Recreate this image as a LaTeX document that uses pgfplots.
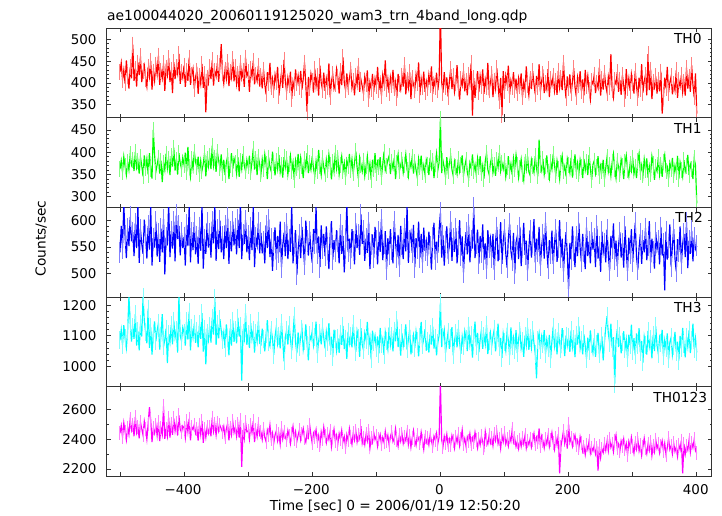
\documentclass[border=0pt]{standalone}
\usepackage{pgfplots}
\pgfplotsset{compat=1.18}
\usepackage{pgfplotstable}
\usepackage{fontspec}
\setmainfont{DejaVu Sans}
\definecolor{cR}{RGB}{255,0,0}
\definecolor{cG}{RGB}{0,255,0}
\definecolor{cB}{RGB}{0,0,255}
\definecolor{cC}{RGB}{0,255,255}
\definecolor{cM}{RGB}{255,0,255}

\pgfplotstableread{
x r g b c m
-500 425 362 540 1085 2440
-498 446 381 590 1120 2490
-496 408 355 548 1070 2415
-494 430 390 632 1135 2510
-492 399 368 571 1092 2450
-490 452 349 529 1060 2395
-488 415 377 586 1118 2478
-486 387 360 552 1230 2432
-484 436 395 607 1145 2535
-482 411 372 561 1081 2462
-480 488 383 578 1128 2498
-478 405 358 533 1090 2420
-476 433 401 595 1172 2550
-474 392 366 548 1068 2445
-472 447 380 630 1115 2482
-470 418 352 520 1052 2405
-468 461 389 583 1140 2512
-466 402 370 556 1098 2470
-464 428 346 537 1228 2428
-462 440 393 602 1150 2520
-460 410 364 571 1112 2468
-458 392 385 528 1075 2400
-456 437 350 590 1190 2505
-454 415 398 545 1060 2615
-452 451 362 628 1128 2530
-450 385 341 515 1038 2380
-448 426 450 567 1105 2472
-446 405 395 549 1148 2440
-444 442 356 598 1082 2495
-442 420 372 532 1117 2425
-440 463 388 576 1142 2515
-438 396 352 522 1055 2388
-436 428 381 585 1099 2476
-434 411 333 540 1172 2432
-432 445 376 603 1065 2620
-430 382 360 498 1088 2402
-428 434 397 568 1124 2468
-426 418 364 553 1010 2420
-424 457 385 635 1106 2545
-422 402 349 531 1078 2410
-420 430 391 580 1135 2500
-418 377 368 547 1072 2430
-416 448 410 598 1150 2540
-414 409 359 523 1094 2455
-412 436 382 611 1118 2510
-410 421 350 565 1045 2425
-408 467 398 590 1230 2560
-406 398 376 534 1100 2468
-404 425 363 577 1083 2445
-402 412 388 548 1127 2488
-400 440 372 569 1110 2475
-398 391 399 515 1068 2410
-396 427 356 593 1148 2520
-394 405 412 552 1088 2450
-392 458 367 627 1180 2538
-390 396 345 521 1052 2392
-388 419 384 578 1125 2482
-386 433 363 544 1095 2465
-384 387 401 597 1140 2498
-382 414 378 536 1077 2440
-380 428 366 570 1115 2470
-378 375 390 518 1062 2390
-376 416 352 588 1138 2498
-374 398 381 543 1090 2432
-372 444 359 631 1175 2522
-370 389 374 509 1048 2375
-368 421 398 565 1122 2468
-366 333 346 537 1006 2412
-364 412 385 596 1108 2480
-362 400 368 549 1085 2440
-360 436 392 575 1132 2485
-358 409 362 530 1078 2420
-356 452 415 598 1160 2545
-354 394 370 557 1104 2452
-352 427 388 630 1225 2500
-350 415 356 524 1070 2428
-348 446 400 583 1140 2510
-346 403 381 546 1092 2455
-344 438 365 600 1155 2492
-342 489 395 540 1118 2470
-340 422 354 570 1085 2448
-338 399 383 527 1112 2485
-336 431 349 591 1060 2415
-334 410 377 548 1138 2470
-332 448 391 606 1092 2505
-330 393 340 518 1036 2392
-328 425 372 579 1125 2478
-326 412 398 542 1068 2430
-324 455 362 598 1150 2520
-322 404 386 553 1080 2445
-320 437 375 585 1118 2480
-318 398 352 536 1075 2420
-316 420 389 602 1160 2500
-314 381 345 548 1098 2410
-312 446 380 638 1132 2530
-310 412 362 527 952 2215
-308 428 396 573 1108 2462
-306 391 370 556 1088 2405
-304 458 357 601 1175 2512
-302 417 383 540 1070 2450
-300 425 368 571 1105 2455
-298 380 392 525 1060 2400
-296 433 355 587 1142 2495
-294 415 378 544 1090 2445
-292 451 408 629 1120 2520
-290 397 361 512 1045 2380
-288 418 384 568 1110 2462
-286 405 349 553 1082 2418
-284 440 390 596 1150 2505
-282 392 373 538 1076 2428
-280 415 351 577 1071 2446
-278 388 384 538 1124 2398
-276 431 362 560 1088 2470
-274 396 395 519 1049 2412
-272 374 373 591 1105 2383
-270 425 340 548 1152 2461
-268 401 388 603 1080 2430
-266 446 367 531 1066 2495
-264 392 357 566 1119 2402
-262 410 401 505 1092 2441
-260 383 376 559 1037 2375
-258 419 348 587 1098 2428
-256 402 380 526 1130 2456
-254 437 362 571 1074 2389
-252 371 394 540 1101 2433
-250 398 355 598 1059 2367
-248 424 371 512 1142 2475
-246 389 343 553 1083 2402
-244 453 389 577 1016 2450
-242 405 366 533 1096 2415
-240 380 385 594 1118 2392
-238 412 350 527 1071 2458
-236 395 373 564 1135 2421
-234 426 392 541 1089 2370
-232 364 359 630 1052 2437
-230 403 377 519 1104 2486
-228 388 338 556 1166 2404
-226 431 381 582 1078 2449
-224 399 364 497 1042 2385
-222 417 396 545 1111 2426
-220 392 357 573 1063 2461
-218 428 388 529 1097 2394
-216 385 369 588 1124 2433
-214 410 342 551 1055 2472
-212 447 384 516 1083 2408
-210 396 365 600 1138 2380
-208 334 398 562 1071 2445
-206 414 353 534 1019 2414
-204 389 376 579 1102 2496
-202 421 361 543 1087 2427
-200 405 391 520 1116 2372
-198 378 363 584 1068 2440
-196 433 347 556 1095 2417
-194 393 380 626 1147 2463
-192 416 358 537 1041 2386
-190 371 405 570 1083 2425
-188 440 370 512 1110 2359
-186 401 349 591 1072 2448
-184 385 386 548 1128 2402
-182 424 366 575 1094 2481
-180 382 352 533 1059 2419
-178 410 383 589 1113 2376
-176 391 361 546 1080 2435
-174 445 395 508 1142 2398
-172 367 372 574 1066 2455
-170 404 339 599 1097 2350
-168 420 378 526 1030 2412
-166 387 357 563 1120 2467
-164 398 399 541 1088 2389
-162 432 364 582 1051 2426
-160 413 387 560 1092 2371
-158 376 350 519 1044 2438
-156 428 372 592 1107 2402
-154 395 391 537 1070 2459
-152 459 358 571 1133 2384
-150 401 376 502 1056 2417
-148 384 344 553 1091 2345
-146 422 382 633 1024 2430
-144 390 369 541 1114 2392
-142 411 396 566 1075 2470
-140 431 361 529 1101 2414
-138 389 384 584 1062 2366
-136 405 353 560 1138 2441
-134 372 377 517 1079 2395
-132 417 402 595 1047 2456
-130 396 366 548 1116 2381
-128 440 341 573 1093 2428
-126 380 388 535 1031 2402
-124 408 372 612 1125 2488
-122 393 357 556 1071 2373
-120 376 381 581 1053 2411
-118 415 347 524 1109 2364
-116 398 369 566 1087 2432
-114 429 391 539 1146 2389
-112 364 355 597 1068 2456
-110 402 374 508 1095 2338
-108 387 338 555 1022 2405
-106 421 383 574 1117 2378
-104 380 362 530 1079 2444
-102 410 398 588 1101 2397
-100 393 354 562 1060 2420
-98 437 378 517 1098 2352
-96 384 366 579 1041 2398
-94 406 389 541 1126 2431
-92 371 345 603 1073 2366
-90 418 372 525 1090 2412
-88 399 401 556 1037 2379
-86 452 359 580 1112 2452
-84 386 368 508 1084 2390
-82 409 383 567 1056 2426
-80 377 392 536 1129 2361
-78 413 351 584 1070 2418
-76 395 379 545 1098 2447
-74 430 364 519 1049 2384
-72 388 387 599 1117 2405
-70 403 340 558 1082 2470
-68 366 376 531 1154 2396
-66 421 395 573 1063 2353
-64 398 358 514 1094 2429
-62 385 371 590 1035 2387
-60 417 383 555 1108 2437
-58 392 354 527 1066 2372
-56 441 372 586 1093 2413
-54 374 395 542 1138 2389
-52 408 361 628 1055 2451
-50 389 346 520 1087 2365
-48 425 380 563 1121 2420
-46 363 367 577 1039 2346
-44 411 389 539 1074 2408
-42 397 352 592 1102 2458
-40 384 378 512 1060 2394
-38 420 360 567 1115 2359
-36 401 343 548 1084 2427
-34 447 385 598 1032 2401
-32 372 366 530 1097 2375
-30 410 392 575 1146 2446
-28 391 355 521 1069 2390
-26 426 371 587 1090 2332
-24 380 350 543 1122 2415
-22 404 383 561 1051 2378
-20 388 372 533 1083 2409
-18 419 349 579 1045 2363
-16 396 388 551 1106 2430
-14 438 365 507 1071 2388
-12 375 380 568 1130 2352
-10 407 342 596 1058 2421
-8 392 374 526 1092 2396
-6 424 397 560 1036 2440
-4 383 360 539 1077 2371
-2 410 377 583 1101 2414
0 570 475 615 1210 2790
2 402 353 530 1063 2395
4 378 381 572 1096 2350
6 425 366 515 1120 2418
8 391 345 561 1044 2377
10 413 389 589 1081 2432
12 369 358 537 1112 2359
14 404 374 552 1057 2401
16 432 392 598 1093 2364
18 386 361 524 1129 2425
20 415 347 567 1036 2390
22 380 379 541 1085 2341
24 400 366 586 1108 2418
26 441 351 519 1062 2379
28 388 384 555 1124 2433
30 362 357 601 1078 2355
32 409 372 534 1041 2398
34 395 393 570 1097 2462
36 428 348 502 1066 2369
38 381 368 548 1115 2405
40 404 383 578 1088 2352
42 372 355 536 1050 2415
44 419 341 592 1132 2388
46 398 376 521 1071 2437
48 445 364 563 1102 2365
50 325 395 547 1028 2409
52 411 357 625 1093 2378
54 366 372 529 1147 2446
56 402 349 556 1065 2395
58 427 386 583 1110 2341
60 379 366 518 1046 2398
62 416 391 571 1088 2362
64 394 353 540 1119 2419
66 431 370 593 1057 2384
68 375 341 526 1099 2340
70 408 380 557 1072 2451
72 390 398 509 1135 2393
74 446 361 582 1040 2367
76 383 350 549 1084 2426
78 401 375 566 1110 2375
80 420 389 531 1066 2410
82 368 354 575 1098 2356
84 405 371 507 1121 2432
86 387 347 559 1049 2391
88 434 383 588 1085 2449
90 396 366 523 1140 2370
92 359 399 546 1062 2404
94 412 358 597 1093 2338
96 326 376 518 1027 2425
98 427 362 562 1107 2383
100 382 380 583 1079 2441
102 417 345 538 1051 2367
104 399 366 511 1113 2399
106 440 391 566 1086 2354
108 373 357 594 1035 2418
110 406 374 542 1128 2386
112 392 349 525 1067 2465
114 425 386 577 1094 2379
116 384 363 500 1052 2406
118 410 394 559 1119 2350
120 376 371 571 1043 2384
122 411 343 527 1090 2337
124 393 365 588 1116 2396
126 422 384 514 1058 2352
128 367 352 553 1082 2410
130 401 337 596 1031 2368
132 385 379 535 1101 2425
134 438 361 562 1069 2341
136 396 391 506 1128 2389
138 372 356 548 1054 2363
140 409 348 582 1093 2404
142 386 383 530 1061 2347
144 427 369 559 1118 2392
146 398 355 603 1076 2438
148 374 391 521 1040 2365
150 416 364 566 960 2411
152 391 346 541 1085 2380
154 443 428 588 1109 2472
156 380 372 515 1054 2356
158 405 359 552 1097 2420
160 421 385 574 1072 2389
162 377 350 528 1119 2341
164 400 368 596 1040 2402
166 386 393 545 1088 2368
168 432 356 510 1061 2427
170 368 341 563 1103 2350
172 409 377 537 1025 2395
174 395 362 581 1082 2444
176 417 396 518 1130 2374
178 382 371 556 1066 2331
180 404 349 583 1094 2410
182 373 381 522 1039 2362
184 428 363 549 1112 2433
186 390 340 601 1077 2170
188 411 375 530 1056 2349
190 384 392 566 1125 2401
192 447 357 504 1090 2455
194 397 369 545 1033 2371
196 365 346 578 1101 2412
198 415 385 536 1068 2337
200 388 371 470 1095 2500
202 420 354 558 1047 2380
204 376 388 526 1118 2408
206 402 343 589 1062 2353
208 434 366 544 1089 2396
210 391 395 512 1030 2427
212 369 358 570 1104 2362
214 413 376 533 1071 2391
216 396 351 596 1133 2340
218 427 383 549 1058 2415
220 381 367 522 1086 2372
222 408 342 575 1039 2318
224 372 385 541 1105 2350
226 430 360 508 1066 2296
228 393 377 587 1024 2361
230 416 349 533 1094 2330
232 383 394 560 1051 2389
234 362 363 519 1118 2307
236 405 338 578 1073 2344
238 398 372 545 1045 2321
240 419 381 566 1092 2358
242 377 352 512 1031 2301
244 401 366 590 1074 2339
246 389 391 528 1110 2190
248 436 347 551 1040 2352
250 371 370 503 1063 2276
252 410 358 579 1098 2334
254 385 383 540 1019 2310
256 423 340 557 1081 2371
258 394 365 521 1127 2325
260 378 389 583 1165 2384
262 414 356 536 1109 2322
264 392 371 505 1078 2403
266 466 347 571 1140 2345
268 384 378 548 1060 2371
270 367 396 595 1096 2316
272 406 362 527 942 2390
274 398 342 562 1085 2428
276 425 380 514 1122 2339
278 380 367 554 1063 2367
280 407 352 578 1101 2320
282 373 384 530 1042 2388
284 418 369 557 1080 2354
286 395 340 511 1115 2402
288 364 377 589 1057 2331
290 432 393 541 1088 2370
292 389 361 505 1026 2296
294 411 346 568 1104 2385
296 382 374 537 1069 2349
298 420 359 584 1137 2412
300 399 388 522 1051 2355
302 376 351 560 1092 2306
304 428 367 596 1036 2377
306 393 342 531 1108 2334
308 366 380 507 1070 2398
310 412 397 549 1125 2321
312 386 356 575 1045 2362
314 443 371 518 1083 2291
316 378 348 563 1012 2349
318 404 384 540 1097 2406
320 419 361 586 1071 2342
322 372 386 525 1038 2303
324 466 343 553 1116 2369
326 384 369 599 1064 2325
328 431 352 520 1089 2381
330 363 391 566 1026 2290
332 402 374 541 1103 2354
334 390 338 509 1050 2316
336 415 366 578 1131 2397
338 376 357 546 1068 2338
340 408 389 562 1041 2366
342 381 350 517 1094 2308
344 426 372 588 1075 2351
346 330 345 534 1120 2389
348 369 379 556 1033 2320
350 412 394 468 1086 2372
352 388 359 579 1061 2297
354 437 367 526 1108 2343
356 378 341 550 1022 2405
358 401 376 593 1079 2331
360 415 363 513 1095 2356
362 374 387 552 1037 2302
364 398 348 584 1067 2374
366 383 370 528 1113 2318
368 429 355 504 1048 2347
370 366 392 565 1081 2285
372 406 340 541 1018 2362
374 392 377 589 1100 2329
376 418 361 519 1059 2391
378 379 345 556 1126 2170
380 402 382 575 1072 2368
382 371 357 531 1029 2299
384 435 369 597 1097 2354
386 387 394 510 1064 2327
388 413 349 562 1118 2395
390 380 373 537 1043 2312
392 441 362 581 1085 2376
394 396 340 523 1140 2343
396 367 386 568 1056 2398
398 422 371 546 1092 2321
400 330 285 552 1045 2305
}\data

% pale vertical error bars (as '|' marks of half-length about 1 sigma), then the line
\newcommand{\series}[3]{%
  \addplot[only marks, mark=|, mark size=#3, color=#2!50!white, forget plot,
    each nth point=2, filter discard warning=false,
    mark options={line width=1bp}]
    table[x=x, y=#1]{\data};
  \addplot[#2, line width=1.15bp, mark=none] table[x=x, y=#1]{\data};
}

\tikzset{
  lab/.style={anchor=north east, inner sep=0pt, font=\fontsize{13.8}{16}\selectfont, yshift=-5bp},
}

\pgfplotsset{
  panel/.style={
    width=605bp, height=89.6bp, scale only axis,
    anchor=north west,
    xmin=-521, xmax=423,
    xtick={-500,-400,...,400},
    major tick length=4bp, minor tick length=2bp,
    tick align=inside,
    axis line style={line width=1bp, black!80},
    every tick/.style={line width=0.8bp, black!80},
    tick label style={font=\fontsize{13.5}{15}\selectfont},
    yticklabel style={inner sep=0pt, anchor=east, xshift=-9.8bp},
    /pgf/number format/assume math mode=true,
    /pgf/number format/1000 sep={},
    clip=true,
  },
  notx/.style={xticklabels={,,,,,,,,,}},
}

\begin{document}
\begin{tikzpicture}
\path[use as bounding box] (0,0) rectangle (722bp,-516bp);

\begin{axis}[panel, notx, at={(106.5bp,-28.3bp)}, ymin=320, ymax=525.5,
  ytick={350,400,450,500}, minor y tick num=4]
\series{r}{cR}{8bp}
\node[lab, xshift=-9.8bp] at (rel axis cs:1,1) {TH0};
\end{axis}

\begin{axis}[panel, notx, at={(106.5bp,-117.9bp)}, ymin=276, ymax=477,
  ytick={300,350,400,450}, minor y tick num=4]
\series{g}{cG}{8bp}
\node[lab, xshift=-9.8bp] at (rel axis cs:1,1) {TH1};
\end{axis}

\begin{axis}[panel, notx, at={(106.5bp,-207.5bp)}, ymin=455, ymax=625,
  ytick={500,550,600}, minor y tick num=4]
\series{b}{cB}{10.5bp}
\node[lab, xshift=-8.5bp] at (rel axis cs:1,1) {TH2};
\end{axis}

\begin{axis}[panel, notx, at={(106.5bp,-297.1bp)}, ymin=932, ymax=1228,
  ytick={1000,1100,1200}, minor y tick num=4]
\series{c}{cC}{9bp}
\node[lab, xshift=-9.8bp] at (rel axis cs:1,1) {TH3};
\end{axis}

\begin{axis}[panel, at={(106.5bp,-386.7bp)}, ymin=2151, ymax=2752,
  ytick={2200,2400,2600}, minor y tick num=1,
  xticklabels={,−400,,−200,,0,,200,,400},
  xticklabel style={inner sep=0pt, anchor=north, yshift=-8.4bp, xshift=-1bp},
  xlabel={Time [sec] 0 = 2006/01/19 12:50:20},
  xlabel style={at={(axis description cs:0.5,0)}, anchor=base, inner sep=0pt,
    yshift=-34bp, xshift=-13.7bp, font=\fontsize{13.8}{16}\selectfont}]
\series{m}{cM}{7bp}
\node[lab, xshift=-4.2bp] at (rel axis cs:1,1) {TH0123};
\end{axis}

\node[anchor=base west, inner sep=0pt, font=\fontsize{13.9}{16}\selectfont]
  at (107bp,-20.7bp) {ae100044020\_20060119125020\_wam3\_trn\_4band\_long.qdp};
\node[rotate=90, anchor=base, inner sep=0pt, font=\fontsize{13.8}{16}\selectfont]
  at (45.5bp,-238.5bp) {Counts/sec};
\end{tikzpicture}
\end{document}
